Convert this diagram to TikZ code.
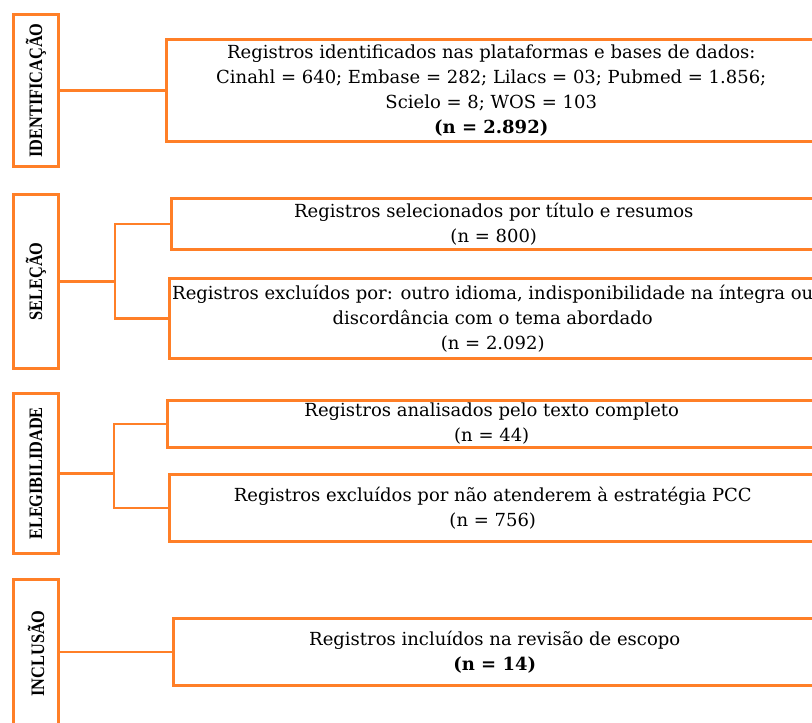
\documentclass[tikz,border=0pt]{standalone}
\usepackage{fontspec}
\setmainfont{DejaVu Serif}
\newfontfamily\lblfont[FakeStretch=0.86]{Liberation Serif}
\definecolor{brd}{RGB}{255,127,39}
\tikzset{
  stagebox/.style={draw=brd, line width=3pt, rectangle, inner sep=0pt, minimum width=45pt},
  stagelabel/.style={rotate=90, inner sep=0pt, font=\lblfont\bfseries\fontsize{19}{20}\selectfont},
  info/.style={draw=brd, line width=3pt, rectangle, inner sep=0pt, align=center, font=\fontsize{18}{25}\selectfont},
  link/.style={draw=brd, line width=2.3pt},
}
\begin{document}
\begin{tikzpicture}[x=1pt,y=-1pt]
\useasboundingbox (0,0) rectangle (812,723);
\clip (0,0) rectangle (812,723);
% stage boxes
\node[stagebox, minimum height=152pt] (id) at (36,90.5) {};
\node[stagelabel] (idl) at (id.center) {IDENTIFICAÇÃO};
\node[stagebox, minimum height=174pt] (sel) at (36,281.5) {};
\node[stagelabel] (sell) at (sel.center) {SELEÇÃO};
\node[stagebox, minimum height=160pt] (ele) at (36,473.5) {};
\node[stagelabel] (elel) at (ele.center) {ELEGIBILIDADE};
\node[stagebox, minimum height=160.5pt] (inc) at (36,659.75) {};
\node[stagelabel] (incl) at (36,653.5) {INCLUSÃO};
% info boxes
\node[info, minimum width=649.5pt, minimum height=102pt] (idr) at (491.25,90.5)
  {Registros identificados nas plataformas e bases de dados:\\
   Cinahl = 640; Embase = 282; Lilacs = 03; Pubmed = 1.856;\\
   Scielo = 8; WOS = 103\\
   \textbf{(n = 2.892)}};
\node[info, minimum width=644.5pt, minimum height=51pt] (sel1) at (493.75,224)
  {Registros selecionados por título e resumos\\(n = 800)};
\node[info, minimum width=646.5pt, minimum height=80pt] (sel2) at (492.75,318.5)
  {Registros excluídos por: outro idioma, indisponibilidade na íntegra ou\\
   discordância com o tema abordado\\(n = 2.092)};
\node[info, minimum width=648.5pt, minimum height=47pt] (ele1) at (491.75,424)
  {Registros analisados pelo texto completo\\(n = 44)};
\node[info, minimum width=646.5pt, minimum height=67pt] (ele2) at (492.75,508)
  {Registros excluídos por não atenderem à estratégia PCC\\(n = 756)};
\node[info, minimum width=642.5pt, minimum height=67pt] (incr) at (494.75,652)
  {Registros incluídos na revisão de escopo\\\textbf{(n = 14)}};
% connectors
\draw[link] (id.east) -- (idr.west);
\coordinate (selj) at (115,281.5);
\draw[link] (sel.east) -- (selj);
\draw[link] (sel1.west) -| (selj) |- (sel2.west);
\coordinate (elej) at (114,473.5);
\draw[link] (ele.east) -- (elej);
\draw[link] (ele1.west) -| (elej) |- (ele2.west);
\draw[link] (incr.west) -- (incr.west -| inc.east);
\end{tikzpicture}
\end{document}
